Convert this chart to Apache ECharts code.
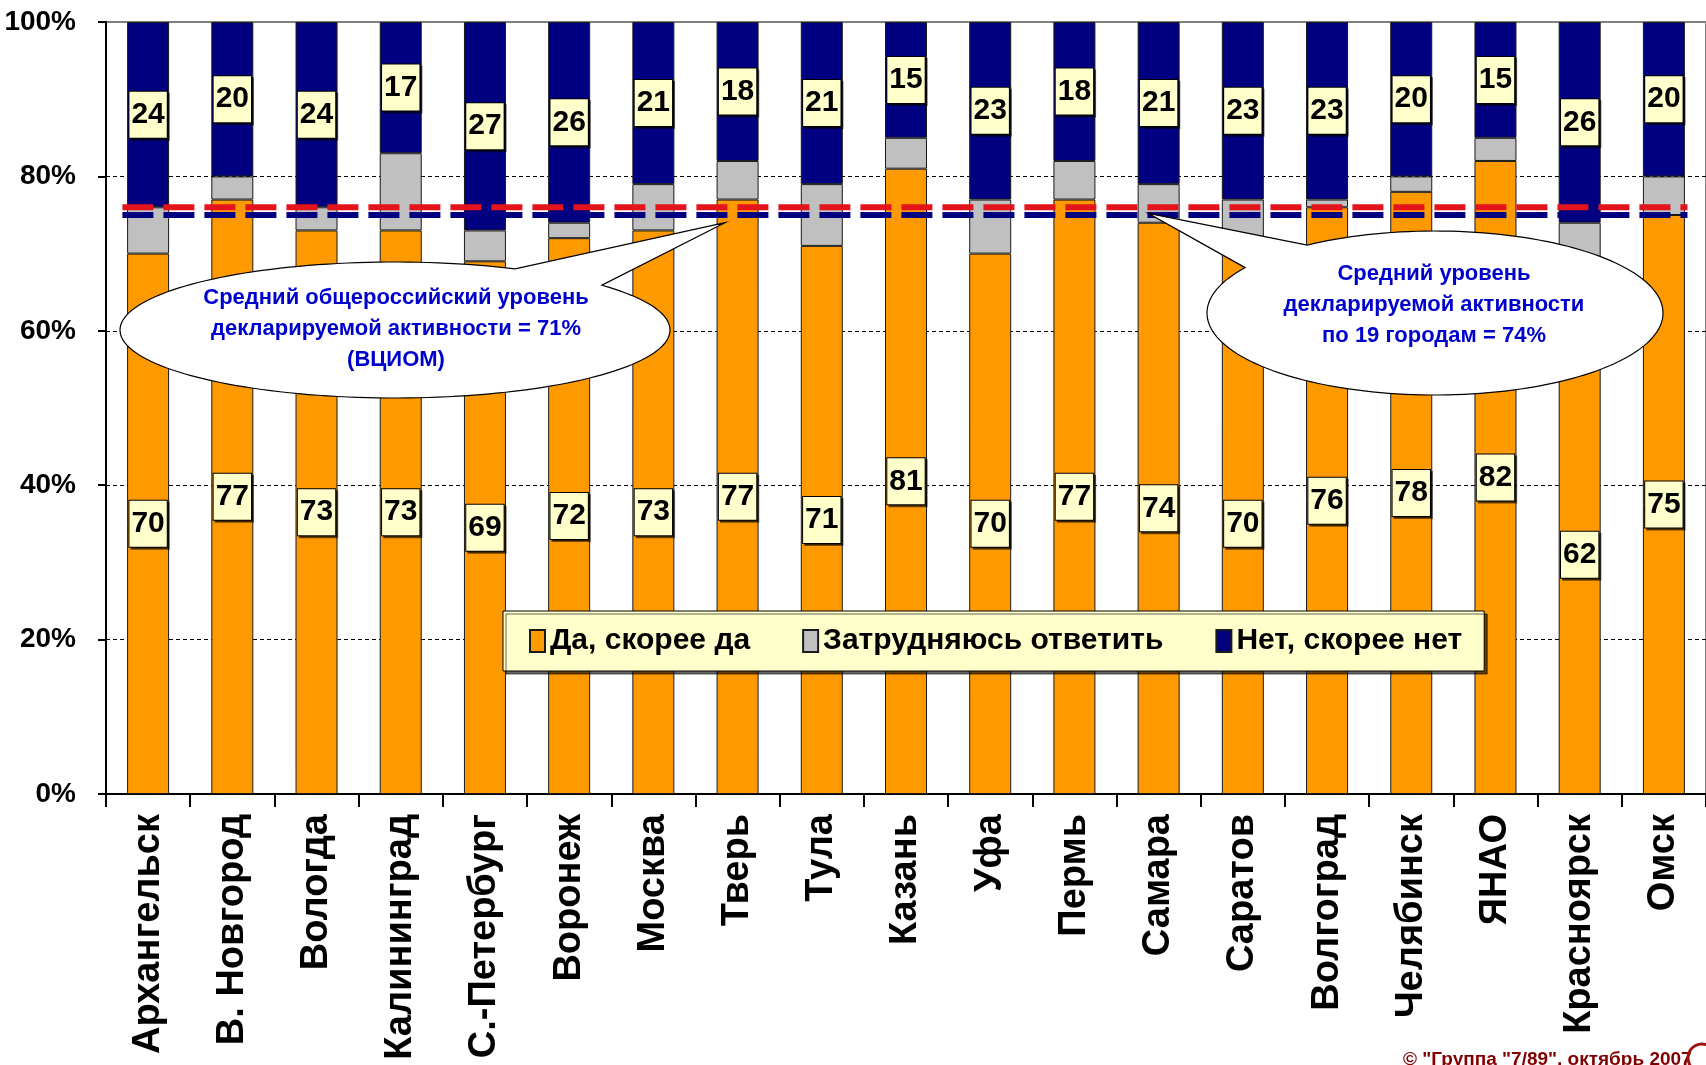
<!DOCTYPE html>
<html>
<head>
<meta charset="utf-8">
<script src="https://cdn.jsdelivr.net/npm/echarts@6/dist/echarts.min.js"></script>
<style>
  html, body { margin: 0; padding: 0; background: #ffffff; }
  #chart { width: 1706px; height: 1065px; }
</style>
</head>
<body>
<div id="chart"></div>
<script>
// Cities surveyed
const cities = ['Архангельск', 'В. Новгород', 'Вологда', 'Калининград', 'С.-Петербург', 'Воронеж',
  'Москва', 'Тверь', 'Тула', 'Казань', 'Уфа', 'Пермь', 'Самара', 'Саратов', 'Волгоград',
  'Челябинск', 'ЯНАО', 'Красноярск', 'Омск'];
// Share of answers, %
const yesValues = [70, 77, 73, 73, 69, 72, 73, 77, 71, 81, 70, 77, 74, 70, 76, 78, 82, 62, 75];
const unsureValues = [6, 3, 3, 10, 4, 2, 6, 5, 8, 4, 7, 5, 5, 7, 1, 2, 3, 12, 5];
const noValues = [24, 20, 24, 17, 27, 26, 21, 18, 21, 15, 23, 18, 21, 23, 23, 20, 15, 26, 20];
const seriesNames = ['Да, скорее да', 'Затрудняюсь ответить', 'Нет, скорее нет'];
// Y axis ticks, %
const yTicks = [0, 20, 40, 60, 80, 100];
// Dashed reference levels as drawn, %
const redLevel = 76;
const navyLevel = 75;
// Callout texts
const calloutRussia = 'Средний общероссийский уровень\nдекларируемой активности = 71%\n(ВЦИОМ)';
const calloutCities = 'Средний уровень\nдекларируемой активности\nпо 19 городам = 74%';
const copyright = '© "Группа "7/89", октябрь 2007';

const ORANGE = '#FF9900', GRAY = '#C0C0C0', NAVY = '#000080', RED = '#E3141B';
const SANS = "'Liberation Sans', Arial, sans-serif";

const valueLabel = {
  show: true,
  position: 'inside',
  formatter: '{c}',
  color: '#000',
  fontFamily: SANS,
  fontWeight: 'bold',
  fontSize: 30,
  lineHeight: 36,
  backgroundColor: '#FFFFCC',
  borderColor: '#000',
  borderWidth: 1,
  padding: [6, 2, 4, 2],
  shadowColor: 'rgba(0,0,0,0.55)',
  shadowOffsetX: 2,
  shadowOffsetY: 2,
  shadowBlur: 0
};

const barBase = {
  type: 'bar',
  stack: 'total',
  barWidth: 42,
  xAxisIndex: 0,
  yAxisIndex: 0
};

const chart = echarts.init(document.getElementById('chart'), null, { renderer: 'canvas' });

const option = {
  animation: false,
  backgroundColor: '#ffffff',
  grid: {
    left: 106, top: 22, right: -8, bottom: 271,
    show: true, borderColor: '#808080', borderWidth: 2, backgroundColor: 'transparent'
  },
  legend: {
    data: seriesNames,
    left: 503, top: 611,
    orient: 'horizontal',
    icon: 'rect',
    backgroundColor: '#FFFFCC',
    borderColor: '#000',
    borderWidth: 1,
    padding: [15, 22, 15, 26],
    itemGap: 52,
    itemWidth: 15,
    itemHeight: 22,
    shadowColor: 'rgba(0,0,0,0.6)',
    shadowOffsetX: 3,
    shadowOffsetY: 3,
    shadowBlur: 0,
    textStyle: { color: '#000', fontFamily: SANS, fontWeight: 'bold', fontSize: 30, padding: [0, 0, 0, 0] },
    selectedMode: false
  },
  xAxis: [
    {
      type: 'category',
      data: cities,
      axisLine: { show: true, lineStyle: { color: '#000', width: 2 } },
      axisTick: { show: true, length: 13, lineStyle: { color: '#000', width: 2 } },
      axisLabel: {
        rotate: 90, interval: 0, margin: 20,
        color: '#000', fontFamily: SANS, fontWeight: 'bold', fontSize: 38
      },
      splitLine: { show: false }
    },
    {
      // hidden continuous twin of the category axis, used for the dashed levels and callout pointers
      type: 'value', min: 0, max: cities.length, show: false
    }
  ],
  yAxis: {
    type: 'value',
    min: yTicks[0], max: yTicks[yTicks.length - 1], interval: yTicks[1] - yTicks[0],
    axisLine: { show: true, lineStyle: { color: '#000', width: 2 } },
    axisTick: { show: true, length: 8, lineStyle: { color: '#000', width: 2 } },
    axisLabel: {
      formatter: '{value}%', margin: 30,
      color: '#000', fontFamily: SANS, fontWeight: 'bold', fontSize: 28
    },
    splitLine: {
      show: true,
      lineStyle: { color: '#000', width: 1, type: [4, 3] },
      showMaxLine: false
    }
  },
  series: [
    Object.assign({}, barBase, {
      name: seriesNames[0], data: yesValues,
      itemStyle: { color: ORANGE, borderColor: '#1a1a1a', borderWidth: 1 },
      label: valueLabel
    }),
    Object.assign({}, barBase, {
      name: seriesNames[1], data: unsureValues,
      itemStyle: { color: GRAY, borderColor: '#1a1a1a', borderWidth: 1 },
      label: { show: false }
    }),
    Object.assign({}, barBase, {
      name: seriesNames[2], data: noValues,
      itemStyle: { color: NAVY, borderColor: '#1a1a1a', borderWidth: 1 },
      label: valueLabel
    }),
    {
      type: 'line', name: 'redLevel', xAxisIndex: 1, yAxisIndex: 0,
      data: [[0.1, redLevel], [18.78, redLevel]],
      symbol: 'none', silent: true, z: 5,
      lineStyle: { color: RED, width: 6, type: [31, 10], dashOffset: 33 }
    },
    {
      type: 'line', name: 'navyLevel', xAxisIndex: 1, yAxisIndex: 0,
      data: [[0.1, navyLevel], [18.78, navyLevel]],
      symbol: 'none', silent: true, z: 5,
      lineStyle: { color: NAVY, width: 6, type: [31, 10], dashOffset: 33 }
    }
  ]
};

chart.setOption(option);

// Speech-bubble callout: an ellipse with a wedge running to the tip.
function bubblePoints(cx, cy, rx, ry, tip, fromDeg, toDeg) {
  const pts = [tip];
  const steps = 160;
  for (let i = 0; i <= steps; i++) {
    const t = (fromDeg + (toDeg - fromDeg) * i / steps) * Math.PI / 180;
    pts.push([cx + rx * Math.cos(t), cy + ry * Math.sin(t)]);
  }
  return pts;
}

const tipRussia = chart.convertToPixel({ xAxisIndex: 1, yAxisIndex: 0 }, [7.35, 74.0]);
const tipCities = chart.convertToPixel({ xAxisIndex: 1, yAxisIndex: 0 }, [12.38, 75.2]);

const bubbleStyle = { fill: '#ffffff', stroke: '#000', lineWidth: 1.2 };
const textStyleBase = {
  fill: '#0000CC', font: "bold 22px 'Liberation Sans', Arial, sans-serif",
  textAlign: 'center', textVerticalAlign: 'middle', lineHeight: 31
};

chart.setOption({
  graphic: [
    {
      type: 'polygon', z: 100,
      shape: { points: bubblePoints(395, 330, 275, 68, tipRussia, -41.2, 295.9) },
      style: bubbleStyle
    },
    {
      type: 'text', z: 101, x: 396, y: 329,
      style: Object.assign({ text: calloutRussia }, textStyleBase)
    },
    {
      type: 'polygon', z: 100,
      shape: { points: bubblePoints(1435, 313, 228, 82, tipCities, 235.9, 573.6) },
      style: bubbleStyle
    },
    {
      type: 'text', z: 101, x: 1434, y: 305,
      style: Object.assign({ text: calloutCities }, textStyleBase)
    },
    {
      type: 'text', z: 101, x: 1403, y: 1050,
      style: {
        text: copyright, fill: '#800000',
        font: "bold 19px 'Liberation Sans', Arial, sans-serif"
      }
    },
    {
      type: 'arc', z: 101,
      shape: { cx: 1702, cy: 1058, r: 14, startAngle: Math.PI * 0.6, endAngle: Math.PI * 1.6 },
      style: { stroke: '#A01010', lineWidth: 3, fill: null }
    }
  ]
});
</script>
</body>
</html>
